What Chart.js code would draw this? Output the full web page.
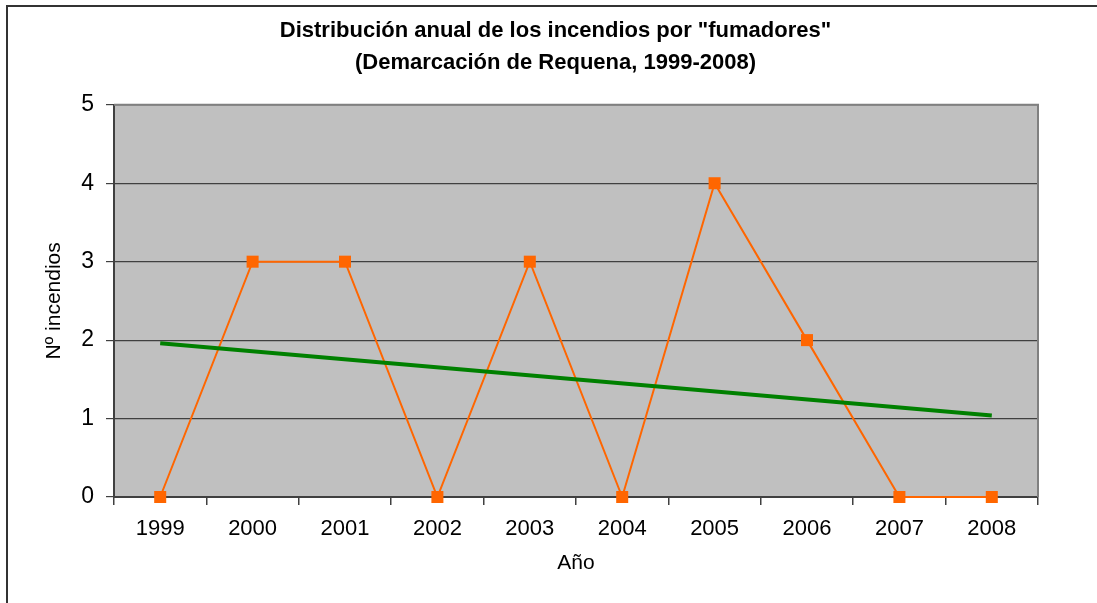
<!DOCTYPE html>
<html>
<head>
<meta charset="utf-8">
<script src="https://cdn.jsdelivr.net/npm/chart.js@4/dist/chart.umd.min.js"></script>
<style>
  html, body { margin: 0; padding: 0; background: #ffffff; }
  #wrap { width: 1097px; height: 603px; position: relative; }
</style>
</head>
<body>
<div id="wrap"><canvas id="chart"></canvas></div>
<script>
var years = ['1999', '2000', '2001', '2002', '2003', '2004', '2005', '2006', '2007', '2008'];
var incendios = [0, 3, 3, 0, 3, 0, 4, 2, 0, 0];
// linear trend at both ends
var tendencia = [1.96, null, null, null, null, null, null, null, null, 1.04];
var yTicks = [0, 1, 2, 3, 4, 5];

var FONT = "'Liberation Sans', Arial, sans-serif";

/* grey plot area, the frame round it, and the outer border */
var framePlugin = {
    id: 'frame',
    beforeDraw: function(chart) {
        var ctx = chart.ctx, a = chart.chartArea;
        ctx.save();
        ctx.fillStyle = '#ffffff';
        ctx.fillRect(0, 0, chart.width, chart.height);
        ctx.strokeStyle = '#333333';
        ctx.lineWidth = 2;
        ctx.strokeRect(7, 6, chart.width + 20, chart.height + 20);
        ctx.fillStyle = '#c0c0c0';
        ctx.fillRect(a.left, a.top, a.right - a.left, a.bottom - a.top);
        ctx.restore();
    },
    beforeDatasetsDraw: function(chart) {
        var ctx = chart.ctx, a = chart.chartArea;
        ctx.save();
        ctx.strokeStyle = '#808080';
        ctx.lineWidth = 2;
        ctx.beginPath();
        ctx.moveTo(a.left, a.top);
        ctx.lineTo(a.right, a.top);
        ctx.lineTo(a.right, a.bottom);
        ctx.stroke();
        ctx.restore();
    }
};

new Chart(document.getElementById('chart'), {
    type: 'line',
    data: {
        labels: years,
        datasets: [{
            label: 'Incendios',
            data: incendios,
            borderColor: '#ff6600',
            backgroundColor: '#ff6600',
            borderWidth: 2,
            pointStyle: 'rect',
            pointRadius: 8.5,
            pointBorderWidth: 0,
            tension: 0,
            clip: false,
            order: 2
        }, {
            label: 'Tendencia',
            data: tendencia,
            borderColor: '#008000',
            borderWidth: 4,
            pointRadius: 0,
            spanGaps: true,
            tension: 0,
            order: 1
        }]
    },
    options: {
        responsive: true,
        maintainAspectRatio: false,
        animation: false,
        layout: { padding: { left: 14, right: 0, top: 0, bottom: 16 } },
        plugins: {
            legend: { display: false },
            tooltip: { enabled: false },
            title: {
                display: true,
                text: ['Distribución anual de los incendios por "fumadores"', '(Demarcación de Requena, 1999-2008)'],
                color: '#000000',
                font: { family: FONT, size: 22, weight: 'bold', lineHeight: 1.45 },
                padding: { top: 15, bottom: 26 }
            }
        },
        scales: {
            x: {
                offset: true,
                grid: { offset: true, drawOnChartArea: false, drawTicks: true, tickLength: 8, color: '#404040', lineWidth: 1.5 },
                border: { color: '#404040', width: 2 },
                ticks: { color: '#000000', padding: 11, maxRotation: 0, font: { family: FONT, size: 22 } },
                title: { display: true, text: 'Año', color: '#000000', font: { family: FONT, size: 21 }, padding: { top: 0, bottom: 11 } },
                afterFit: function(s) { s.height = 90; }
            },
            y: {
                min: 0,
                max: 5,
                afterBuildTicks: function(s) { s.ticks = yTicks.map(function(v) { return { value: v }; }); },
                grid: { color: '#404040', lineWidth: 1.2, tickLength: 8 },
                border: { color: '#404040', width: 2 },
                ticks: { color: '#000000', padding: 12, font: { family: FONT, size: 23 } },
                title: { display: true, text: 'Nº incendios', color: '#000000', font: { family: FONT, size: 21 }, padding: { top: 28, bottom: 0 } },
                afterFit: function(s) { s.width = 100; }
            },
            yRight: {
                position: 'right',
                display: true,
                grid: { display: false },
                border: { display: false },
                ticks: { display: false },
                afterFit: function(s) { s.width = 59; }
            }
        }
    },
    plugins: [framePlugin]
});
</script>
</body>
</html>
